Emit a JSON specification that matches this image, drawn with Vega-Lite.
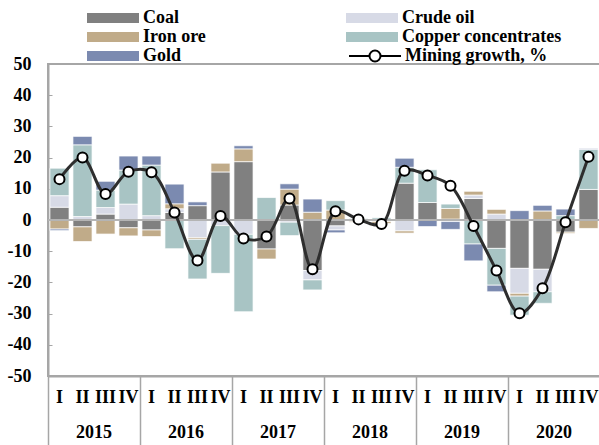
{
  "$schema": "https://vega.github.io/schema/vega-lite/v6.json",
  "width": 552,
  "height": 312,
  "autosize": {"type": "none"},
  "padding": {"left": 48, "top": 64, "right": 0, "bottom": 69},
  "background": "white",
  "config": {
    "view": {"stroke": "#a6a6a6", "strokeWidth": 2},
    "font": "Liberation Serif",
    "axis": {"labelOverlap": false}
  },
  "datasets": {
    "series": [
      {"s": "Coal", "k": 1}, {"s": "Crude oil", "k": 2}, {"s": "Iron ore", "k": 3}, {"s": "Copper concentrates", "k": 4}, {"s": "Gold", "k": 5}
    ],
    "bars": [
      {"q": "2015-I", "s": "Coal", "v": 4.1}, {"q": "2015-I", "s": "Crude oil", "v": 3.7}, {"q": "2015-I", "s": "Iron ore", "v": -2.9}, {"q": "2015-I", "s": "Copper concentrates", "v": 8.8}, {"q": "2015-I", "s": "Gold", "v": -0.5},
      {"q": "2015-II", "s": "Coal", "v": -2.2}, {"q": "2015-II", "s": "Crude oil", "v": 1.1}, {"q": "2015-II", "s": "Iron ore", "v": -4.7}, {"q": "2015-II", "s": "Copper concentrates", "v": 23.0}, {"q": "2015-II", "s": "Gold", "v": 2.7},
      {"q": "2015-III", "s": "Coal", "v": 1.9}, {"q": "2015-III", "s": "Crude oil", "v": 2.1}, {"q": "2015-III", "s": "Iron ore", "v": -4.5}, {"q": "2015-III", "s": "Copper concentrates", "v": 5.6}, {"q": "2015-III", "s": "Gold", "v": 2.8},
      {"q": "2015-IV", "s": "Coal", "v": -2.5}, {"q": "2015-IV", "s": "Crude oil", "v": 5.1}, {"q": "2015-IV", "s": "Iron ore", "v": -2.6}, {"q": "2015-IV", "s": "Copper concentrates", "v": 10.9}, {"q": "2015-IV", "s": "Gold", "v": 4.5},
      {"q": "2016-I", "s": "Coal", "v": -3.2}, {"q": "2016-I", "s": "Crude oil", "v": 1.4}, {"q": "2016-I", "s": "Iron ore", "v": -2.1}, {"q": "2016-I", "s": "Copper concentrates", "v": 16.2}, {"q": "2016-I", "s": "Gold", "v": 2.9},
      {"q": "2016-II", "s": "Coal", "v": 2.4}, {"q": "2016-II", "s": "Crude oil", "v": 1.2}, {"q": "2016-II", "s": "Iron ore", "v": 1.6}, {"q": "2016-II", "s": "Copper concentrates", "v": -9.2}, {"q": "2016-II", "s": "Gold", "v": 6.3},
      {"q": "2016-III", "s": "Coal", "v": 4.6}, {"q": "2016-III", "s": "Crude oil", "v": -5.7}, {"q": "2016-III", "s": "Iron ore", "v": -0.5}, {"q": "2016-III", "s": "Copper concentrates", "v": -12.7}, {"q": "2016-III", "s": "Gold", "v": 1.2},
      {"q": "2016-IV", "s": "Coal", "v": 15.4}, {"q": "2016-IV", "s": "Crude oil", "v": -1.8}, {"q": "2016-IV", "s": "Iron ore", "v": 2.8}, {"q": "2016-IV", "s": "Copper concentrates", "v": -15.3},
      {"q": "2017-I", "s": "Coal", "v": 18.7}, {"q": "2017-I", "s": "Crude oil", "v": -4.6}, {"q": "2017-I", "s": "Iron ore", "v": 4.1}, {"q": "2017-I", "s": "Copper concentrates", "v": -24.8}, {"q": "2017-I", "s": "Gold", "v": 1.0},
      {"q": "2017-II", "s": "Coal", "v": -9.3}, {"q": "2017-II", "s": "Iron ore", "v": -3.2}, {"q": "2017-II", "s": "Copper concentrates", "v": 7.2},
      {"q": "2017-III", "s": "Coal", "v": 4.8}, {"q": "2017-III", "s": "Crude oil", "v": -0.7}, {"q": "2017-III", "s": "Iron ore", "v": 5.1}, {"q": "2017-III", "s": "Copper concentrates", "v": -4.3}, {"q": "2017-III", "s": "Gold", "v": 1.7},
      {"q": "2017-IV", "s": "Coal", "v": -16.2}, {"q": "2017-IV", "s": "Crude oil", "v": -3.0}, {"q": "2017-IV", "s": "Iron ore", "v": 2.5}, {"q": "2017-IV", "s": "Copper concentrates", "v": -3.2}, {"q": "2017-IV", "s": "Gold", "v": 4.2},
      {"q": "2018-I", "s": "Coal", "v": -1.9}, {"q": "2018-I", "s": "Crude oil", "v": -1.3}, {"q": "2018-I", "s": "Iron ore", "v": 3.2}, {"q": "2018-I", "s": "Copper concentrates", "v": 3.0}, {"q": "2018-I", "s": "Gold", "v": -0.9},
      {"q": "2018-II", "s": "Coal", "v": -0.4}, {"q": "2018-II", "s": "Crude oil", "v": 0.2}, {"q": "2018-II", "s": "Iron ore", "v": -0.3}, {"q": "2018-II", "s": "Copper concentrates", "v": 0.3},
      {"q": "2018-III", "s": "Coal", "v": -0.3}, {"q": "2018-III", "s": "Crude oil", "v": -0.2}, {"q": "2018-III", "s": "Iron ore", "v": -0.6}, {"q": "2018-III", "s": "Copper concentrates", "v": 0.7},
      {"q": "2018-IV", "s": "Coal", "v": 11.8}, {"q": "2018-IV", "s": "Crude oil", "v": -3.5}, {"q": "2018-IV", "s": "Iron ore", "v": -0.7}, {"q": "2018-IV", "s": "Copper concentrates", "v": 5.1}, {"q": "2018-IV", "s": "Gold", "v": 2.9},
      {"q": "2019-I", "s": "Coal", "v": 5.6}, {"q": "2019-I", "s": "Copper concentrates", "v": 10.5}, {"q": "2019-I", "s": "Gold", "v": -2.1},
      {"q": "2019-II", "s": "Coal", "v": 0.3}, {"q": "2019-II", "s": "Crude oil", "v": -0.5}, {"q": "2019-II", "s": "Iron ore", "v": 3.4}, {"q": "2019-II", "s": "Copper concentrates", "v": 1.4}, {"q": "2019-II", "s": "Gold", "v": -2.5},
      {"q": "2019-III", "s": "Coal", "v": 6.9}, {"q": "2019-III", "s": "Crude oil", "v": 1.1}, {"q": "2019-III", "s": "Iron ore", "v": 1.2}, {"q": "2019-III", "s": "Copper concentrates", "v": -7.7}, {"q": "2019-III", "s": "Gold", "v": -5.4},
      {"q": "2019-IV", "s": "Coal", "v": -9.1}, {"q": "2019-IV", "s": "Crude oil", "v": 1.9}, {"q": "2019-IV", "s": "Iron ore", "v": 1.5}, {"q": "2019-IV", "s": "Copper concentrates", "v": -11.8}, {"q": "2019-IV", "s": "Gold", "v": -2.1},
      {"q": "2020-I", "s": "Coal", "v": -15.5}, {"q": "2020-I", "s": "Crude oil", "v": -8.0}, {"q": "2020-I", "s": "Iron ore", "v": -0.9}, {"q": "2020-I", "s": "Copper concentrates", "v": -6.1}, {"q": "2020-I", "s": "Gold", "v": 3.0},
      {"q": "2020-II", "s": "Coal", "v": -15.8}, {"q": "2020-II", "s": "Crude oil", "v": -7.2}, {"q": "2020-II", "s": "Iron ore", "v": 2.9}, {"q": "2020-II", "s": "Copper concentrates", "v": -3.7}, {"q": "2020-II", "s": "Gold", "v": 1.8},
      {"q": "2020-III", "s": "Coal", "v": -3.9}, {"q": "2020-III", "s": "Iron ore", "v": -0.4}, {"q": "2020-III", "s": "Copper concentrates", "v": 1.4}, {"q": "2020-III", "s": "Gold", "v": 2.1},
      {"q": "2020-IV", "s": "Coal", "v": 9.8}, {"q": "2020-IV", "s": "Iron ore", "v": -2.7}, {"q": "2020-IV", "s": "Copper concentrates", "v": 12.8}, {"q": "2020-IV", "s": "Gold", "v": 0.3}
    ],
    "growth": [
      {"q": "2015-I", "g": 13.1}, {"q": "2015-II", "g": 20.0}, {"q": "2015-III", "g": 8.3}, {"q": "2015-IV", "g": 15.5},
      {"q": "2016-I", "g": 15.3}, {"q": "2016-II", "g": 2.4}, {"q": "2016-III", "g": -13.0}, {"q": "2016-IV", "g": 1.3},
      {"q": "2017-I", "g": -5.9}, {"q": "2017-II", "g": -5.3}, {"q": "2017-III", "g": 6.9}, {"q": "2017-IV", "g": -15.8},
      {"q": "2018-I", "g": 2.8}, {"q": "2018-II", "g": 0.2}, {"q": "2018-III", "g": -1.3}, {"q": "2018-IV", "g": 15.8},
      {"q": "2019-I", "g": 14.3}, {"q": "2019-II", "g": 11.0}, {"q": "2019-III", "g": -1.9}, {"q": "2019-IV", "g": -16.2},
      {"q": "2020-I", "g": -29.9}, {"q": "2020-II", "g": -21.9}, {"q": "2020-III", "g": -0.7}, {"q": "2020-IV", "g": 20.3}
    ]
  },
  "resolve": {"axis": {"x": "independent"}},
  "layer": [
    {
      "data": {"name": "bars"},
      "transform": [
        {"lookup": "s", "from": {"data": {"name": "series"}, "key": "s", "fields": ["k"]}}
      ],
      "mark": {"type": "bar", "stroke": "#ffffff", "strokeWidth": 0.7},
      "encoding": {
        "x": {
          "field": "q", "type": "ordinal",
          "scale": {"paddingInner": 0.17, "paddingOuter": 0.085},
          "axis": {
            "title": null, "orient": "bottom", "labelAngle": 0,
            "labelExpr": "split(datum.value, '-')[1]",
            "ticks": false, "domain": true, "domainColor": "#a6a6a6", "domainWidth": 2,
            "labelPadding": 12, "labelFont": "Liberation Serif", "labelFontSize": 18,
            "labelFontWeight": "bold", "labelColor": "#000000", "labelOverlap": false
          }
        },
        "y": {
          "field": "v", "type": "quantitative", "stack": "zero",
          "scale": {"domain": [-50, 50], "nice": false},
          "axis": {
            "title": null, "values": [-50, -40, -30, -20, -10, 0, 10, 20, 30, 40, 50],
            "tickCount": 20,
            "labelExpr": "'' + datum.value", "grid": false, "labelOverlap": false,
            "labelFont": "Liberation Serif", "labelFontSize": 18, "labelFontWeight": "bold",
            "labelColor": "#000000", "domainColor": "#a6a6a6", "domainWidth": 2,
            "tickColor": "#a6a6a6", "tickSize": -4, "tickWidth": 1, "labelPadding": 21
          }
        },
        "order": {"field": "k", "type": "quantitative"},
        "color": {
          "field": "s", "type": "nominal",
          "scale": {
            "domain": ["Coal", "Crude oil", "Iron ore", "Copper concentrates", "Gold"],
            "range": ["#808080", "#d7dae6", "#c0ab89", "#a8c4c4", "#7b8ab0"]
          },
          "legend": {
            "title": null, "orient": "none", "legendX": 39, "legendY": -55,
            "direction": "horizontal",
            "columns": 2, "columnPadding": 140, "rowPadding": 1,
            "symbolOffset": 17, "labelOffset": 21,
            "labelFont": "Liberation Serif", "labelFontSize": 18, "labelFontWeight": "bold",
            "labelColor": "#000000", "labelLimit": 400,
            "symbolSize": 100, "symbolStrokeWidth": 0,
            "symbolType": "M-5.2,-1H5.2V1H-5.2Z"
          }
        }
      }
    },
    {
      "data": {"values": [{"y": 0}]},
      "mark": {"type": "rule", "color": "#b4b4b4", "strokeWidth": 2},
      "encoding": {"y": {"field": "y", "type": "quantitative"}}
    },
    {
      "data": {"name": "growth"},
      "mark": {"type": "line", "interpolate": "catmull-rom", "strokeWidth": 3, "color": "#2e2e2e"},
      "encoding": {
        "x": {
          "field": "q", "type": "ordinal",
          "axis": {
            "title": null, "orient": "bottom", "labelAngle": 0,
            "values": ["2015-I", "2016-I", "2017-I", "2018-I", "2019-I", "2020-I"],
            "labelExpr": "split(datum.value, '-')[0]",
            "labelOffset": 34.5, "domain": false, "ticks": true, "tickSize": 69,
            "tickColor": "#a6a6a6", "tickWidth": 1.5, "bandPosition": -0.1,
            "labelPadding": -22, "labelFont": "Liberation Serif", "labelFontSize": 18,
            "labelFontWeight": "bold", "labelColor": "#000000", "labelOverlap": false
          }
        },
        "y": {"field": "g", "type": "quantitative"},
        "opacity": {
          "datum": "Mining growth, %", "type": "nominal",
          "scale": {"type": "ordinal", "domain": ["Mining growth, %"], "range": [1]},
          "legend": {
            "title": null, "orient": "none", "legendX": 301, "legendY": -17,
            "symbolOffset": 17, "labelOffset": 21,
            "labelFont": "Liberation Serif", "labelFontSize": 18, "labelFontWeight": "bold",
            "labelColor": "#000000", "labelLimit": 400,
            "symbolSize": 100, "symbolStrokeWidth": 2,
            "symbolFillColor": "#ffffff", "symbolStrokeColor": "#000000",
            "symbolType": "M-5.2,0H-1.1M1.1,0H5.2M1.1,0A1.1,1.1,0,1,1,-1.1,0A1.1,1.1,0,1,1,1.1,0Z"
          }
        }
      }
    },
    {
      "data": {"name": "growth"},
      "mark": {"type": "point", "filled": true, "fill": "#ffffff", "stroke": "#000000", "strokeWidth": 2, "size": 100, "opacity": 1},
      "encoding": {
        "x": {"field": "q", "type": "ordinal", "axis": null},
        "y": {"field": "g", "type": "quantitative"}
      }
    }
  ]
}
